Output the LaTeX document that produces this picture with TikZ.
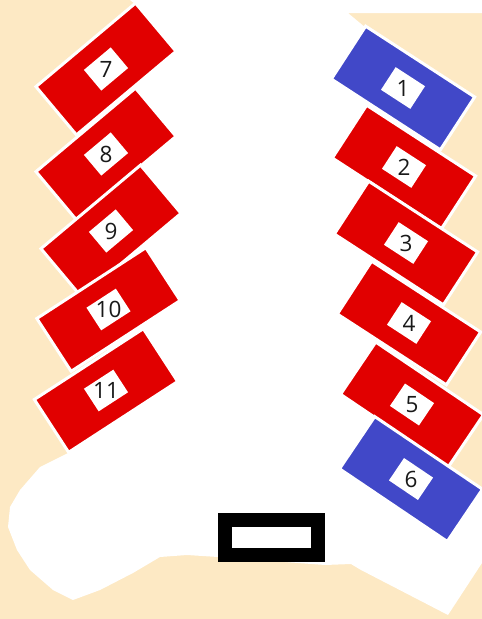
\documentclass[tikz,border=0pt]{standalone}
\usepackage{fontspec}
\setmainfont{Open Sans}
\definecolor{beige}{RGB}{253,233,196}
\definecolor{rred}{RGB}{225,0,0}
\definecolor{rblue}{RGB}{65,72,200}
\begin{document}
\begin{tikzpicture}[x=1pt,y=-1pt]
\tikzset{
  seat/.style={rectangle, fill=rred, draw=white, line width=3pt,
    minimum width=130pt, minimum height=63pt, inner sep=0pt},
  seatblue/.style={seat, fill=rblue},
  tag/.style={rectangle, fill=white, minimum width=35pt, minimum height=27pt, inner sep=0pt},
  num/.style={inner sep=0pt, font=\fontsize{22.5}{22.5}\selectfont, text=black!90},
  stage/.style={rectangle, draw=black, fill=white, line width=14pt,
    minimum width=93pt, minimum height=35pt, inner sep=0pt}
}
\fill[beige] (0,0) rectangle (482,619);
\useasboundingbox (0,0) rectangle (482,619);
% white floor area
\fill[white] (130,0) -- (482,0) -- (482,13) -- (348,13) -- (366,28)
  -- (403,88) -- (404,167) -- (406,243) -- (409,323) -- (412,404) -- (411,478)
  -- (482,490) -- (482,563) -- (448,615) -- (361,570) -- (351,564)
  -- (325,565) -- (218,557) -- (187,555) -- (160,557) -- (133,573)
  -- (100,590) -- (73,600) -- (53,590) -- (30,570) -- (17,550) -- (8,527)
  -- (10,507) -- (20,490) -- (40,467) -- (70,452)
  -- (106,390) -- (108,309) -- (112,231) -- (106,154) -- (106,69) -- (135,4) -- cycle;
% left column
\node[seat, rotate=40] (r7) at (106,69) {};
\node[seat, rotate=40] (r8) at (106,154) {};
\node[seat, rotate=40] (r9) at (111,231) {};
\node[seat, rotate=33] (r10) at (108.5,309.5) {};
\node[seat, rotate=33] (r11) at (106,390.5) {};
% right column
\node[seatblue, rotate=-33] (r1) at (403,88) {};
\node[seat, rotate=-33] (r2) at (404,167) {};
\node[seat, rotate=-33] (r3) at (406,243) {};
\node[seat, rotate=-33] (r4) at (409,323) {};
\node[seat, rotate=-34] (r5) at (412,404.5) {};
\node[seatblue, rotate=-34] (r6) at (411,479) {};
% tags
\foreach \r/\a/\n in {r7/40/7, r8/40/8, r9/40/9, r10/33/10, r11/33/11,
                      r1/-33/1, r2/-33/2, r3/-33/3, r4/-33/4, r5/-34/5, r6/-34/6}{
  \node[tag, rotate=\a] (t\n) at (\r.center) {};
  \node[num] (n\n) at (t\n.center) {\n};
}
% stage
\node[stage] (st) at (271.5,537.5) {};
\end{tikzpicture}
\end{document}
